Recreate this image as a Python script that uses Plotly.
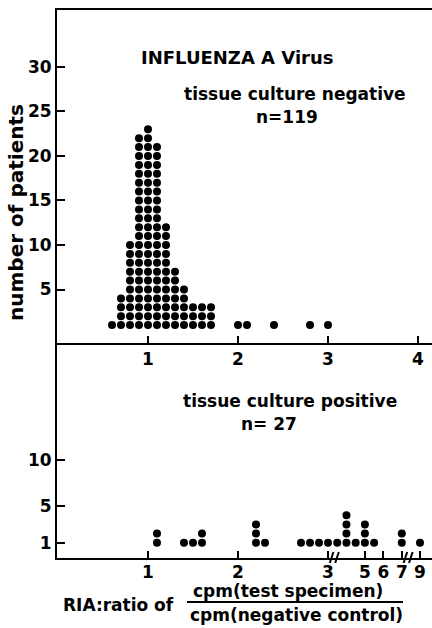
import plotly.graph_objects as go

# ---------------- data ----------------
neg_ratio = [0.6, 0.7, 0.8, 0.9, 1.0, 1.1, 1.2, 1.3, 1.4, 1.5, 1.6, 1.7, 2.0, 2.1, 2.4, 2.8, 3.0]
neg_count = [1, 4, 10, 22, 23, 21, 12, 7, 5, 3, 3, 3, 1, 1, 1, 1, 1]

pos_ratio = [1.1, 1.4, 1.5, 1.6, 2.2, 2.3, 2.7, 2.8, 2.9, 3.0, 3.5, 4.0, 4.5, 5.0, 5.5, 7.0, 9.0]
pos_count = [2, 1, 1, 2, 3, 1, 1, 1, 1, 1, 1, 4, 1, 3, 1, 2, 1]

top_xticks = [1, 2, 3, 4]
top_yticks = [5, 10, 15, 20, 25, 30]
bot_xticks = [1, 2, 3, 5, 6, 7, 9]
bot_yticks = [1, 5, 10]

W, H = 432, 628
FONT = "DejaVu Sans"


def broken(v):
    """Broken ratio axis: linear to 3, compressed 3-7, further compressed beyond 7."""
    if v <= 3:
        return v
    if v <= 7:
        return 3 + (v - 3) * 0.205
    return 3 + 4 * 0.205 + (v - 7) * 0.101


def expand(xs, counts, f=lambda v: v):
    px, py = [], []
    for x, c in zip(xs, counts):
        for k in range(1, c + 1):
            px.append(f(x))
            py.append(k)
    return px, py


nx, ny = expand(neg_ratio, neg_count)
bx, by = expand(pos_ratio, pos_count, broken)

fig = go.Figure()
fig.add_trace(go.Scatter(x=nx, y=ny, mode="markers", xaxis="x", yaxis="y",
                         marker=dict(size=8, color="black"), showlegend=False))
fig.add_trace(go.Scatter(x=bx, y=by, mode="markers", xaxis="x2", yaxis="y2",
                         marker=dict(size=8, color="black"), showlegend=False))


def py_(p):
    return 1 - p / H


def px_(p):
    return p / W


xdom = [57 / W, 1]
xrng = [-0.011, (W - 58) / 90]
tickfont = dict(family=FONT, size=17, color="black", weight="bold")

fig.update_layout(
    width=W, height=H, autosize=False,
    margin=dict(l=0, r=0, t=0, b=0),
    paper_bgcolor="white", plot_bgcolor="white",
    showlegend=False,
    xaxis=dict(domain=xdom, range=xrng, anchor="y", showgrid=False, zeroline=False,
               showline=True, linecolor="black", linewidth=2, mirror=True,
               tickvals=top_xticks, ticktext=[str(t) for t in top_xticks],
               ticks="inside", ticklen=7, tickwidth=2, tickcolor="black",
               tickfont=tickfont),
    yaxis=dict(domain=[py_(343), py_(10)], range=[-1.011, 36.4], anchor="x",
               showgrid=False, zeroline=False, showline=True, linecolor="black",
               linewidth=2, tickvals=top_yticks, ticks="inside", ticklen=8,
               tickwidth=2, tickcolor="black", tickfont=tickfont),
    xaxis2=dict(domain=xdom, range=xrng, anchor="y2", showgrid=False, zeroline=False,
                showline=True, linecolor="black", linewidth=2,
                tickvals=[broken(t) for t in bot_xticks],
                ticktext=[str(t) for t in bot_xticks],
                ticks="inside", ticklen=7, tickwidth=2, tickcolor="black",
                ticklabelstandoff=-2, tickfont=tickfont),
    yaxis2=dict(domain=[py_(558), py_(343)], range=[-0.652, 22.72], anchor="x2",
                showgrid=False, zeroline=False, showline=True, linecolor="black",
                linewidth=2, tickvals=bot_yticks, ticks="inside", ticklen=8,
                tickwidth=2, tickcolor="black", tickfont=tickfont),
)


def note(text, cx, cy, size=17, **kw):
    fig.add_annotation(text=text, x=px_(cx), y=py_(cy), xref="paper", yref="paper",
                       showarrow=False, xanchor="center", yanchor="middle",
                       font=dict(family=FONT, size=size, color="black", weight="bold"), **kw)


note("INFLUENZA A Virus", 237, 57, size=18)
note("tissue culture negative", 295, 94)
note("n=119", 287, 117)
note("tissue culture positive", 290, 401)
note("n= 27", 269, 424)
note("number of patients", 16, 213, size=20, textangle=-90)
note("RIA:ratio of", 118, 605)
note("cpm(test specimen)", 288, 591)
note("cpm(negative control)", 296, 615)

# fraction bar
fig.add_shape(type="line", xref="paper", yref="paper",
              x0=px_(187), x1=px_(403), y0=py_(602), y1=py_(602),
              line=dict(color="black", width=2))

# axis-break marks on the lower ratio axis
for bv in [3.04, 3.10, 3.86, 3.92]:
    fig.add_shape(type="line", xref="x2", yref="paper",
                  x0=bv - 0.02, x1=bv + 0.02, y0=py_(563), y1=py_(552),
                  line=dict(color="black", width=2))

fig.write_html("out.html", config={"displayModeBar": False},
               post_script="document.body.style.margin='0px';")
